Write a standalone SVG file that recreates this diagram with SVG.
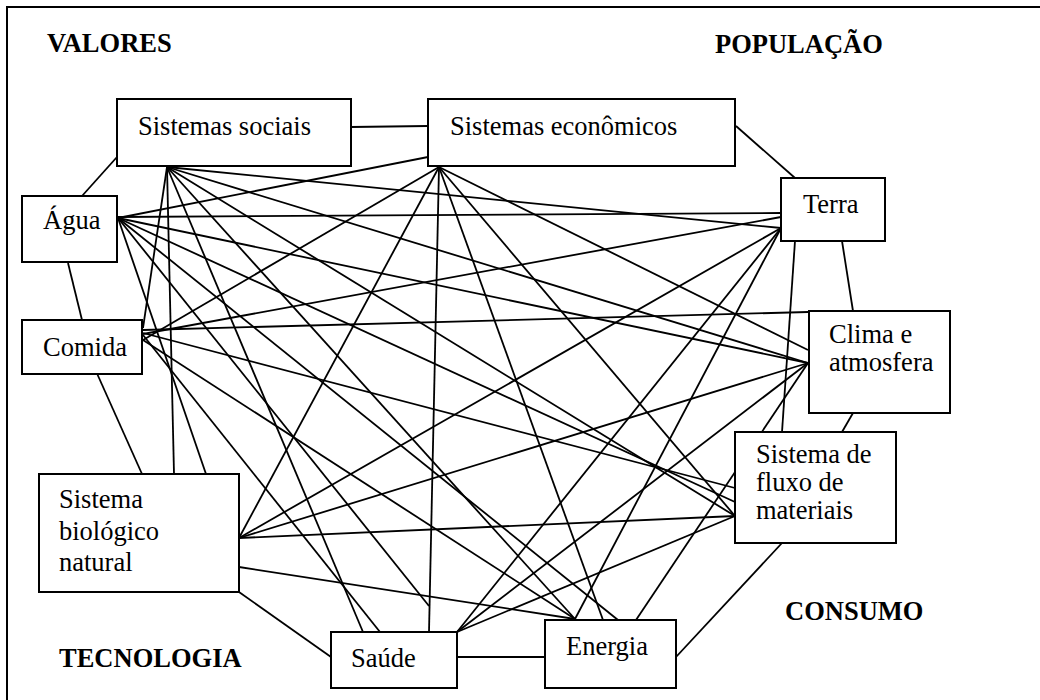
<svg xmlns="http://www.w3.org/2000/svg" width="1040" height="700" viewBox="0 0 1040 700">
<style>
.box{fill:#fff;stroke:#000;stroke-width:2}
text{font-family:'Liberation Serif','DejaVu Serif',serif;font-size:26.5px;fill:#000}
.big{font-weight:bold}
#connectors line{stroke:#000;stroke-width:1.8}
</style>
<rect width="1040" height="700" fill="#fff"/>
<path d="M7,700 V7 H1040" fill="none" stroke="#000" stroke-width="2"/>
<g id="connectors">
<line x1="351" y1="127" x2="428" y2="126"/>
<line x1="736" y1="126" x2="795" y2="178"/>
<line x1="842" y1="241" x2="853" y2="311"/>
<line x1="853" y1="413" x2="842" y2="432"/>
<line x1="782" y1="543" x2="676" y2="657"/>
<line x1="545" y1="657" x2="457" y2="657"/>
<line x1="331" y1="657" x2="239" y2="592"/>
<line x1="142" y1="474" x2="95" y2="369"/>
<line x1="82" y1="320" x2="68" y2="263"/>
<line x1="82" y1="196" x2="117" y2="157"/>
<line x1="795" y1="241" x2="782" y2="432"/>
<line x1="118" y1="218" x2="206" y2="474"/>
<line x1="167" y1="167" x2="174" y2="474"/>
<line x1="167" y1="167" x2="143" y2="328"/>
<line x1="167" y1="167" x2="363" y2="632"/>
<line x1="167" y1="167" x2="575" y2="619"/>
<line x1="167" y1="167" x2="735" y2="516"/>
<line x1="167" y1="167" x2="808" y2="363"/>
<line x1="167" y1="167" x2="781" y2="228"/>
<line x1="428" y1="157" x2="118" y2="218"/>
<line x1="439" y1="167" x2="143" y2="340"/>
<line x1="439" y1="167" x2="239" y2="538"/>
<line x1="439" y1="167" x2="429" y2="632"/>
<line x1="439" y1="167" x2="603" y2="620"/>
<line x1="439" y1="167" x2="735" y2="516"/>
<line x1="439" y1="167" x2="808" y2="350"/>
<line x1="118" y1="217" x2="781" y2="213"/>
<line x1="118" y1="218" x2="808" y2="363"/>
<line x1="118" y1="218" x2="735" y2="502"/>
<line x1="118" y1="218" x2="429" y2="606"/>
<line x1="118" y1="218" x2="618" y2="620"/>
<line x1="781" y1="217" x2="143" y2="334"/>
<line x1="781" y1="228" x2="239" y2="538"/>
<line x1="781" y1="228" x2="457" y2="632"/>
<line x1="781" y1="228" x2="575" y2="619"/>
<line x1="143" y1="330" x2="808" y2="312"/>
<line x1="143" y1="333" x2="735" y2="488"/>
<line x1="143" y1="335" x2="380" y2="632"/>
<line x1="143" y1="340" x2="575" y2="619"/>
<line x1="808" y1="363" x2="239" y2="538"/>
<line x1="808" y1="363" x2="457" y2="632"/>
<line x1="808" y1="363" x2="636" y2="620"/>
<line x1="735" y1="516" x2="239" y2="538"/>
<line x1="735" y1="516" x2="457" y2="632"/>
<line x1="239" y1="567" x2="575" y2="619"/>
</g>
<text class="big" x="47" y="52">VALORES</text>
<text class="big" x="715" y="53">POPULAÇÃO</text>
<text class="big" x="59" y="667">TECNOLOGIA</text>
<text class="big" x="785" y="620">CONSUMO</text>
<g id="sistemas-sociais"><rect class="box" x="117" y="99" width="234" height="67"/><text x="138" y="135">Sistemas sociais</text></g>
<g id="sistemas-economicos"><rect class="box" x="428" y="99" width="307" height="67"/><text x="450" y="135">Sistemas econômicos</text></g>
<g id="agua"><rect class="box" x="22" y="196" width="95" height="66"/><text x="43" y="229">Água</text></g>
<g id="terra"><rect class="box" x="781" y="178" width="104" height="63"/><text x="803" y="213">Terra</text></g>
<g id="comida"><rect class="box" x="22" y="320" width="120" height="54"/><text x="43" y="356">Comida</text></g>
<g id="clima"><rect class="box" x="809" y="311" width="141" height="102"/><text x="829" y="343">Clima e</text><text x="829" y="371">atmosfera</text></g>
<g id="fluxo-materiais"><rect class="box" x="735" y="432" width="161" height="111"/><text x="756" y="463">Sistema de</text><text x="756" y="491">fluxo de</text><text x="756" y="519">materiais</text></g>
<g id="biologico"><rect class="box" x="39" y="474" width="200" height="118"/><text x="59" y="508">Sistema</text><text x="59" y="540">biológico</text><text x="59" y="571">natural</text></g>
<g id="saude"><rect class="box" x="331" y="632" width="126" height="56"/><text x="351" y="667">Saúde</text></g>
<g id="energia"><rect class="box" x="545" y="620" width="131" height="68"/><text x="566" y="655">Energia</text></g>
</svg>
